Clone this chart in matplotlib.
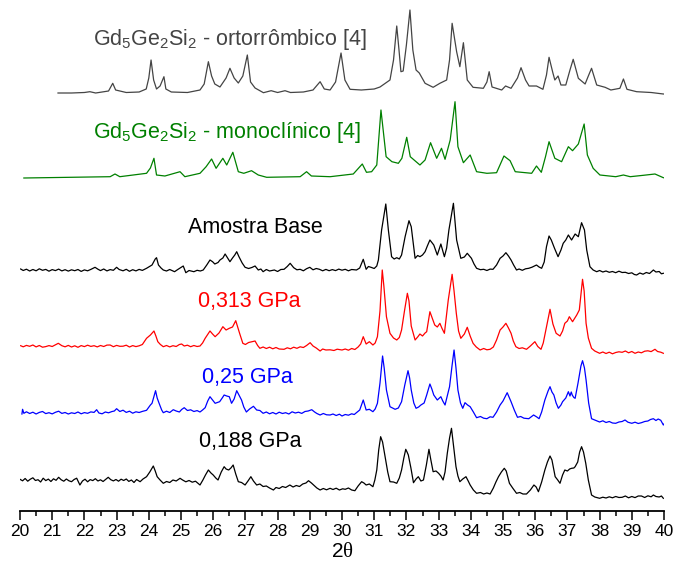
import matplotlib
matplotlib.use("Agg")
import matplotlib.pyplot as plt
from matplotlib.ticker import MultipleLocator

plt.rcParams['font.family'] = ['Liberation Sans', 'DejaVu Sans']
plt.rcParams['mathtext.fontset'] = 'custom'
plt.rcParams['mathtext.rm'] = 'Liberation Sans'
plt.rcParams['mathtext.it'] = 'Liberation Serif'

# ---- data: (2theta, intensity a.u.) ----
ortho = [(21.18,0),(21.6,0),(22.0,0.5),(22.17,1.3),(22.35,0),(22.75,2),(22.88,9.7),(22.97,3),(23.3,0.5),(23.7,1),
 (23.92,4),(24.0,15),(24.07,33),(24.15,13),(24.24,4),(24.35,7),(24.47,16.3),(24.53,4),(24.7,1),(25.2,0.5),(25.59,3),
 (25.72,9),(25.85,31.3),(25.95,17),(26.05,9),(26.21,6),(26.4,15),(26.52,24.7),(26.65,15),(26.78,10),(26.92,17),
 (27.06,38),(27.16,11),(27.3,5),(27.56,0.3),(27.8,2.3),(28.0,0.5),(28.23,2.3),(28.4,0.5),(28.8,1),(29.1,3),(29.32,11.3),
 (29.45,4),(29.63,3),(29.8,11),(29.97,40),(30.09,13),(30.25,3.7),(30.6,3),(31.0,4),(31.18,6),(31.49,13),(31.6,33),
 (31.70,67),(31.77,43),(31.83,21.3),(31.9,22),(32.0,48),(32.11,83),(32.2,43),(32.30,23),(32.4,20),(32.58,9.7),
 (32.83,5.7),(33.04,9.7),(33.25,13),(33.34,33),(33.42,69.7),(33.56,41.3),(33.66,26.3),(33.77,50.3),(33.89,13),
 (34.07,5.7),(34.39,4.7),(34.5,11),(34.57,21.3),(34.66,6),(34.96,3),(35.08,7),(35.25,4.7),(35.45,15),(35.56,25.3),
 (35.7,13),(35.81,7),(36.04,7),(36.24,3.7),(36.35,18),(36.43,35.7),(36.55,20),(36.61,13),(36.71,17),(36.8,8),
 (36.95,8),(37.08,23),(37.18,33.7),(37.34,14.7),(37.55,9),(37.65,17),(37.75,24.7),(37.91,8),(38.17,5.7),(38.35,3),
 (38.63,4.7),(38.74,14),(38.85,3.7),(39.15,1.3),(39.6,0.5),(39.98,-1),(40.1,-1)]

mono = [(20.12,0),(22.80,1.3),(22.95,4),(23.1,1.3),(23.93,4.7),(24.05,10),(24.16,19.7),(24.24,3),(24.5,2),(24.97,6.3),
 (25.12,1.3),(25.59,4.7),(25.78,11.3),(25.95,19),(26.09,9.7),(26.30,19.7),(26.42,13),(26.61,25.7),(26.78,6.3),
 (26.95,4.7),(27.19,7.3),(27.4,3),(27.66,0.7),(28.7,1.3),(28.90,6.3),(29.05,2),(29.63,1.3),(30.35,4),(30.63,14),
 (30.76,5.7),(30.92,6.3),(31.08,13),(31.21,68),(31.37,21.3),(31.55,16.3),(31.75,14.7),(31.86,19.7),(32.01,40.7),
 (32.12,21.3),(32.42,13),(32.58,18),(32.75,35.3),(32.94,19.7),(33.09,29.7),(33.20,18.7),(33.36,38),(33.51,76.3),
 (33.6,31.3),(33.77,15.3),(33.98,23),(34.18,6.3),(34.5,4.7),(34.80,5.3),(35.03,22),(35.22,17.3),(35.38,6.3),
 (35.89,4.7),(36.04,12),(36.19,5.7),(36.32,21.3),(36.43,36.3),(36.61,19.7),(36.82,16.3),(37.03,31.3),(37.16,27.3),
 (37.34,34),(37.52,54),(37.62,23),(37.80,9.7),(38.01,3),(38.5,1.3),(38.74,3),(38.95,1.3),(39.36,2.7),(39.72,4),
 (39.98,0.3),(40.1,-0.3)]

amostra = [(20.02,1),(20.1,-0.5),(20.2,0.8),(20.3,-1),(20.4,0.5),(20.5,-0.8),(20.6,1.2),(20.7,-0.3),(20.8,0.6),(20.9,-1.2),
 (21.0,0.4),(21.1,-0.6),(21.2,0.9),(21.3,-0.9),(21.4,0.3),(21.5,-1.1),(21.6,0.2),(21.7,-0.7),(21.8,0.5),(21.9,-1.4),
 (22.0,0.1),(22.1,-0.8),(22.2,0.6),(22.33,2.7),(22.42,0.8),(22.5,-0.6),(22.6,1.0),(22.7,-0.9),(22.8,0.4),(22.9,-0.3),
 (23.0,2.7),(23.08,0.5),(23.2,-0.8),(23.3,0.7),(23.4,-1.3),(23.5,0.3),(23.6,-0.9),(23.7,0.6),(23.8,-0.4),(23.93,1.7),
 (24.05,4),(24.1,5),(24.2,11),(24.24,12.3),(24.3,5),(24.38,2),(24.45,0),(24.55,-1),(24.65,0.5),(24.8,-1.7),(24.9,0.5),
 (25.0,2.5),(25.07,4),(25.15,-2.7),(25.25,-0.5),(25.4,-1.7),(25.5,-0.3),(25.6,-1),(25.69,0),(25.8,5),(25.9,10),
 (25.98,8.3),(26.05,6),(26.15,7.5),(26.21,10),(26.3,12),(26.37,16),(26.45,12),(26.52,8.3),(26.6,12),(26.67,15),
 (26.73,18.3),(26.8,13.3),(26.9,7),(26.99,2.7),(27.1,1.5),(27.2,2.5),(27.3,4),(27.4,0),(27.48,1),(27.55,-1.7),
 (27.65,0.5),(27.75,-1),(27.9,0),(28.0,-1.5),(28.1,0.5),(28.2,0.7),(28.3,3.5),(28.39,6.7),(28.5,2.3),(28.6,0.2),
 (28.7,0.7),(28.8,-0.8),(28.9,1.3),(29.0,2.7),(29.1,0.2),(29.2,1.5),(29.3,0.7),(29.4,-0.8),(29.5,0.6),(29.6,-0.7),
 (29.7,0.4),(29.8,-0.6),(29.9,0.9),(30.0,-0.2),(30.1,0.7),(30.2,-0.8),(30.3,0.5),(30.45,0),(30.55,2),(30.66,10.7),
 (30.75,0.7),(30.82,3.5),(30.9,2.7),(31.0,1.5),(31.08,4),(31.13,10),(31.23,40),(31.36,66),(31.44,40),(31.54,13.3),
 (31.62,11),(31.7,12.3),(31.78,11),(31.85,15),(31.96,33.3),(32.08,49.3),(32.15,43.3),(32.27,11.7),(32.35,14.5),
 (32.42,13.3),(32.5,15),(32.58,18.3),(32.65,24),(32.73,30),(32.8,27),(32.85,25),(32.96,15),(33.07,26),(33.18,13.3),
 (33.25,22),(33.32,40),(33.46,66.7),(33.56,30),(33.69,11.7),(33.8,13),(33.89,16.7),(34.02,11.7),(34.1,6),(34.18,1.7),
 (34.3,0.3),(34.4,0.7),(34.5,-0.5),(34.6,0.9),(34.69,0.7),(34.8,5),(34.91,11.7),(35.0,14),(35.09,17.3),(35.17,14),
 (35.25,10),(35.33,5),(35.42,0),(35.5,1),(35.6,-0.3),(35.7,1.2),(35.8,1.7),(35.9,2.8),(36.04,5),(36.12,3),(36.2,1.7),
 (36.28,8),(36.35,23.3),(36.43,34),(36.5,30),(36.6,21.7),(36.71,13.3),(36.8,20),(36.87,26.7),(36.95,30),(37.03,35),
 (37.13,30),(37.24,36),(37.34,33.3),(37.44,47.3),(37.53,40),(37.6,20),(37.70,3.3),(37.8,0),(37.91,-1.7),(38.0,-0.5),
 (38.1,-2),(38.2,-1),(38.3,-2.3),(38.4,-1.5),(38.5,-2.7),(38.6,-1.2),(38.7,-2.5),(38.8,-2.3),(38.9,-3.5),(39.0,-2.8),
 (39.08,-4.5),(39.15,-5),(39.25,-3),(39.35,-4.2),(39.45,-2.5),(39.55,-3.5),(39.67,0),(39.75,-2),(39.85,-1.5),
 (39.92,-3.8),(39.98,-3.3)]

p0313 = [(20.02,0.3),(20.1,-0.8),(20.2,0.6),(20.3,-0.3),(20.4,1),(20.5,-0.9),(20.6,0.5),(20.7,-1.2),(20.8,-0.6),(20.9,0.4),
 (21.0,-0.5),(21.1,1.2),(21.19,2.7),(21.3,0.3),(21.4,-0.8),(21.5,0.6),(21.6,-1),(21.7,0.2),(21.8,-1.3),(21.9,0.4),
 (22.0,-0.6),(22.1,0.8),(22.2,-0.4),(22.3,0.3),(22.4,-0.9),(22.5,0.5),(22.6,-0.5),(22.7,0.9),(22.8,1),(22.9,-0.7),
 (23.0,0.6),(23.1,-0.3),(23.2,-0.2),(23.3,0.8),(23.4,-1),(23.5,0.4),(23.6,-0.6),(23.7,0.2),(23.8,1.5),(23.93,7.7),
 (24.05,11),(24.16,15),(24.22,10),(24.28,4.3),(24.36,1.5),(24.45,-0.7),(24.55,0.5),(24.65,-0.9),(24.75,0.3),
 (24.85,-0.5),(24.95,1.5),(25.02,2),(25.1,0),(25.2,0.8),(25.3,-0.7),(25.4,0.5),(25.5,-0.5),(25.59,0),(25.67,3),
 (25.75,7.7),(25.9,15),(25.98,12),(26.06,9.3),(26.18,13),(26.3,19.3),(26.4,16),(26.5,17.7),(26.6,19),(26.7,25.3),
 (26.82,12.7),(26.92,2.7),(27.0,1.5),(27.1,3.5),(27.2,4.2),(27.3,5),(27.38,0.5),(27.45,-2.3),(27.55,-1),(27.65,-2.5),
 (27.75,-1.2),(27.85,-2.8),(27.95,-1.5),(28.05,-3),(28.2,-3.3),(28.3,-1.8),(28.4,-2.8),(28.5,-1.2),(28.6,-2.3),
 (28.7,-0.8),(28.8,-1.5),(28.9,0.5),(29.01,3.3),(29.1,0),(29.2,-2),(29.32,-5),(29.4,-3),(29.5,-4),(29.63,-3.8),
 (29.75,-4.5),(29.85,-3.2),(30.0,-4),(30.1,-3),(30.2,-4.2),(30.3,-2.5),(30.4,-3.5),(30.5,-1),(30.58,2),(30.66,9.3),
 (30.75,2),(30.85,4.3),(30.96,1),(31.03,3),(31.1,9.3),(31.18,35),(31.25,76),(31.3,60),(31.38,29.3),(31.49,12.7),
 (31.6,8),(31.70,6),(31.78,8.5),(31.85,16),(31.94,35),(32.03,52.7),(32.08,45),(32.15,20),(32.27,6),(32.35,9),
 (32.42,12),(32.5,10),(32.58,13),(32.63,14.3),(32.73,34.3),(32.8,28),(32.88,21),(32.96,19),(33.04,22.7),(33.1,18),
 (33.18,12.7),(33.3,46),(33.42,71.7),(33.48,55),(33.55,32.7),(33.62,15),(33.69,7.7),(33.8,12),(33.89,18.7),(33.98,10),
 (34.07,2.7),(34.17,-1),(34.29,-4),(34.4,-2.5),(34.5,-3.8),(34.6,-3.3),(34.7,-1),(34.8,6),(34.91,16),(35.0,19),
 (35.09,22.7),(35.17,18),(35.25,12.7),(35.32,5),(35.4,-0.7),(35.5,-2.5),(35.6,-1.8),(35.73,-3.3),(35.85,0),(35.99,4.3),
 (36.08,-0.5),(36.18,-3.3),(36.25,3),(36.33,16),(36.46,36.7),(36.55,22),(36.65,12.7),(36.77,10),(36.85,15),(36.92,22.7),
 (37.0,25),(37.06,29.3),(37.16,24.3),(37.23,28),(37.29,31),(37.37,36),(37.47,66.7),(37.52,55),(37.58,22.7),(37.65,8),
 (37.75,-2.3),(37.85,-5),(38.0,-7.3),(38.1,-6),(38.2,-7.5),(38.3,-6.2),(38.4,-7.8),(38.5,-6.5),(38.6,-5.8),(38.7,-6.3),
 (38.8,-5),(38.9,-6.8),(39.0,-5.5),(39.1,-7.3),(39.2,-6),(39.3,-6.8),(39.4,-5.2),(39.5,-4.8),(39.6,-5.6),(39.72,-3.3),
 (39.8,-5.5),(39.9,-6.2),(39.98,-7.3)]

p025 = [(20.06,-1),(20.08,3.7),(20.12,-0.3),(20.2,1.2),(20.3,-0.5),(20.4,0.8),(20.5,-1),(20.6,0.6),(20.7,1.5),(20.8,-0.6),
 (20.9,0.3),(21.0,-0.9),(21.1,0.7),(21.2,1.8),(21.3,-0.4),(21.4,0.5),(21.5,-1),(21.6,0.2),(21.7,-0.5),(21.8,1),
 (21.9,-0.8),(22.0,0.4),(22.1,-0.3),(22.2,1.1),(22.3,0.6),(22.38,3.3),(22.45,0),(22.55,-0.8),(22.65,1),(22.75,0.2),
 (22.85,1.4),(22.93,2),(23.0,4.3),(23.1,1.5),(23.2,2.8),(23.3,0.6),(23.4,1.8),(23.5,-0.2),(23.6,1.2),(23.7,0.5),
 (23.8,1.6),(23.93,2.7),(24.05,8),(24.1,9.7),(24.21,22.3),(24.26,15),(24.32,9.7),(24.4,3),(24.45,0.3),(24.55,1.8),
 (24.65,0.5),(24.76,3.3),(24.85,2),(24.95,1),(25.02,3.5),(25.1,5.3),(25.2,2.5),(25.3,3.2),(25.4,1.5),(25.5,2.4),
 (25.59,1),(25.67,3),(25.75,5.3),(25.83,12),(25.9,16.3),(25.98,13),(26.06,9.7),(26.2,11.3),(26.28,15),(26.34,18),
 (26.42,17),(26.5,16.3),(26.57,9.7),(26.65,14),(26.73,22.3),(26.8,18),(26.88,13),(26.95,6),(27.03,1),(27.13,4),
 (27.25,6.7),(27.35,3),(27.45,2.5),(27.55,-0.3),(27.65,1),(27.75,-0.8),(27.85,0.5),(27.95,-1),(28.05,0.8),(28.15,-0.5),
 (28.25,0.3),(28.35,-1),(28.45,1.2),(28.55,0),(28.65,0.8),(28.75,-0.4),(28.85,1.5),(28.95,2),(29.06,3.3),(29.15,1),
 (29.22,-0.5),(29.32,-2),(29.42,-0.5),(29.52,-1.8),(29.63,-2),(29.72,-1),(29.82,-2.5),(29.92,-1.2),(30.0,-3),
 (30.1,-1.5),(30.2,-2.2),(30.3,-0.8),(30.38,-1.5),(30.45,0.3),(30.55,3),(30.66,13),(30.75,3),(30.85,3.7),(30.96,1.3),
 (31.03,4),(31.1,9.7),(31.18,30),(31.26,57),(31.31,45),(31.38,23),(31.49,6.3),(31.57,5),(31.65,3.7),(31.75,5),
 (31.85,11.3),(31.95,28),(32.05,42.3),(32.1,35),(32.15,23),(32.23,10),(32.30,4.7),(32.38,6),(32.45,8),(32.55,10),
 (32.63,18),(32.73,29),(32.79,24),(32.85,18),(32.96,13),(33.07,16.3),(33.13,12),(33.2,8),(33.34,26.3),(33.42,48),
 (33.48,63),(33.54,45),(33.6,23),(33.68,10),(33.75,4.7),(33.82,10.3),(33.9,8),(33.98,6.3),(34.08,1),(34.18,-4.7),
 (34.3,-3.5),(34.4,-5.2),(34.5,-5.7),(34.6,-3.8),(34.69,-4.3),(34.8,1),(34.91,8),(35.0,12),(35.08,17),(35.13,20.3),
 (35.2,15),(35.25,11.3),(35.35,3),(35.45,-4.3),(35.55,-3.5),(35.65,-5.2),(35.8,-5.7),(35.95,-2),(36.05,-4),(36.12,-5.7),
 (36.2,1),(36.3,13),(36.4,22),(36.46,26.3),(36.52,21),(36.58,18),(36.65,10),(36.72,4.7),(36.8,8),(36.85,11.3),
 (36.95,15),(37.03,21.3),(37.08,17),(37.12,21),(37.15,18),(37.2,15.5),(37.24,14.7),(37.33,30),(37.42,47),(37.47,52.3),
 (37.53,45),(37.58,33),(37.66,10),(37.75,-5.7),(37.85,-7),(38.0,-9),(38.1,-7.8),(38.2,-9.5),(38.3,-8.5),(38.4,-10),
 (38.5,-10.3),(38.6,-9),(38.7,-8.5),(38.79,-7),(38.88,-9.2),(39.0,-10.3),(39.1,-9.2),(39.2,-10.5),(39.3,-9.7),
 (39.4,-8.5),(39.5,-8),(39.58,-6.5),(39.67,-5.7),(39.75,-7.5),(39.82,-6),(39.9,-7.3),(39.98,-12),(40.05,-8.7)]

p0188 = [(20.0,0.7),(20.08,-0.8),(20.16,1.5),(20.24,-1.2),(20.32,0.8),(20.4,2.2),(20.48,-0.5),(20.56,0.3),(20.64,-2),
 (20.72,1.8),(20.8,-0.6),(20.88,0.9),(20.96,-1.5),(21.04,1.2),(21.12,-0.3),(21.2,2.7),(21.28,0.2),(21.36,-1.2),(21.44,1),
 (21.52,-0.8),(21.6,-1.7),(21.68,0.5),(21.76,1.8),(21.86,-5),(21.94,-1),(22.02,0.8),(22.1,-1.8),(22.18,0.4),(22.26,-0.6),
 (22.34,1.3),(22.42,-1),(22.5,0.2),(22.58,-1.5),(22.66,0.6),(22.74,2.7),(22.82,0.3),(22.9,-0.9),(22.98,0.5),(23.06,-1.2),
 (23.14,0.8),(23.22,-0.5),(23.3,1),(23.38,-1.4),(23.46,0),(23.54,-2.5),(23.62,0.5),(23.73,-1.7),(23.82,1),(23.93,3.3),
 (24.03,8),(24.14,14),(24.2,9),(24.26,3.3),(24.35,0),(24.45,-3.3),(24.55,-1.5),(24.65,-2.5),(24.75,0),(24.85,-1),
 (24.97,1.7),(25.05,0),(25.15,-1.8),(25.25,-0.5),(25.35,-2.2),(25.45,-1.2),(25.59,-5),(25.68,0),(25.76,5),(25.85,10),
 (25.93,7),(26.0,5),(26.08,2),(26.15,0),(26.25,8),(26.34,13.3),(26.4,11),(26.48,10),(26.55,12),(26.62,15),(26.7,6),
 (26.78,-1.7),(26.88,-2.5),(26.99,-5),(27.08,-1),(27.17,3.3),(27.25,-1),(27.35,-5),(27.45,-4),(27.55,-6.5),(27.65,-6),
 (27.75,-8),(27.87,-10),(27.95,-7.5),(28.05,-8.5),(28.15,-6.5),(28.25,-7.5),(28.38,-5),(28.48,-7),(28.58,-5.5),
 (28.68,-6.5),(28.78,-4),(28.88,-3),(28.96,-0.7),(29.05,-3),(29.15,-6),(29.22,-8),(29.32,-10),(29.42,-8.5),(29.52,-9.8),
 (29.63,-8.3),(29.72,-9.5),(29.82,-8.2),(29.92,-10),(30.02,-8.8),(30.1,-9.3),(30.2,-8),(30.3,-10),(30.4,-10.7),(30.5,-6),
 (30.61,-1.7),(30.68,-3),(30.75,-5),(30.85,-4),(30.96,-6.7),(31.02,0),(31.08,10),(31.14,30),(31.20,43.3),(31.26,38),
 (31.34,23.3),(31.42,8),(31.49,-1.7),(31.6,-2),(31.7,-3.3),(31.78,2),(31.85,10),(31.92,22),(31.98,30.7),(32.02,28),
 (32.06,25),(32.14,12),(32.22,-2.7),(32.3,1),(32.37,3.3),(32.45,-1),(32.53,0),(32.62,15),(32.70,30.7),(32.76,20),
 (32.83,8.3),(32.92,9),(33.0,6.7),(33.07,4),(33.14,0),(33.2,8),(33.27,26.7),(33.34,42),(33.40,51.7),(33.46,35),
 (33.54,13.3),(33.6,4),(33.66,-1.7),(33.75,1),(33.85,3.3),(33.92,-1),(33.98,-5),(34.08,-10),(34.18,-13.3),(34.3,-12.5),
 (34.4,-14),(34.5,-13),(34.6,-14),(34.7,-8),(34.78,-2),(34.86,3.3),(34.95,8),(35.04,11.7),(35.1,9),(35.2,-3.3),(35.3,-8),
 (35.42,-13.3),(35.52,-12.5),(35.62,-14),(35.73,-14),(35.85,-10),(35.96,-5),(36.03,-7),(36.1,-11.7),(36.2,-2),(36.3,10),
 (36.38,18),(36.46,24),(36.52,20),(36.62,3.3),(36.7,0),(36.77,-3.3),(36.85,5),(36.92,10),(37.0,9),(37.07,11),
 (37.13,11.7),(37.2,12),(37.24,13.3),(37.32,18),(37.38,28),(37.44,33.3),(37.5,28),(37.57,16.7),(37.65,0),(37.75,-15),
 (37.85,-17),(38.0,-18.3),(38.1,-17.2),(38.2,-18),(38.3,-16.8),(38.4,-17.8),(38.5,-16.5),(38.6,-17.5),(38.7,-17.3),
 (38.8,-16),(38.9,-17.8),(39.0,-16.5),(39.1,-17.6),(39.2,-16),(39.3,-16),(39.4,-17.5),(39.5,-15.8),(39.6,-16.8),
 (39.67,-15),(39.75,-16.5),(39.85,-17),(39.92,-16),(39.98,-18.3)]

labels = ["Gd$_5$Ge$_2$Si$_2$ - ortorrômbico [4]", "Gd$_5$Ge$_2$Si$_2$ - monoclínico [4]",
          "Amostra Base", "0,313 GPa", "0,25 GPa", "0,188 GPa"]
series = [ortho, mono, amostra, p0313, p025, p0188]
offsets = [418, 333, 241, 165, 98, 31]
colors = ['#444444', '#008000', '#000000', '#ff0000', '#0000ff', '#000000']
text_pos = [(93, 45), (93, 138), (188, 233), (198, 307), (202, 383), (199, 447)]  # pixel (left, baseline)

W, H = 675, 562
fig = plt.figure(figsize=(W/100, H/100), dpi=100)
ax = fig.add_axes([20/W, (H-511)/H, 644/W, 511/H])

for s, off, c in zip(series, offsets, colors):
    xs = [p[0] for p in s]
    ys = [p[1] + off for p in s]
    ax.plot(xs, ys, color=c, lw=0.9, solid_joinstyle='round')

for lab, c, (px, py) in zip(labels, colors, text_pos):
    fig.text(px/W, 1 - py/H, lab, color=c, fontsize=15.5, ha='left', va='baseline')

ax.set_xlim(20, 40)
ax.set_ylim(0, 511)
for sp in ['left', 'right', 'top']:
    ax.spines[sp].set_visible(False)
ax.spines['bottom'].set_linewidth(1.3)
ax.set_yticks([])
ax.xaxis.set_major_locator(MultipleLocator(1))
ax.xaxis.set_minor_locator(MultipleLocator(0.5))
ax.tick_params(axis='x', which='major', length=6.5, width=1.1, labelsize=12.5, pad=3)
ax.tick_params(axis='x', which='minor', length=3.5, width=1.1)
ax.patch.set_alpha(0)
fig.text(342/W, 1 - 557/H, "2$\\theta$", fontsize=15, ha='center', va='baseline')

fig.savefig("out.png", dpi=100)
